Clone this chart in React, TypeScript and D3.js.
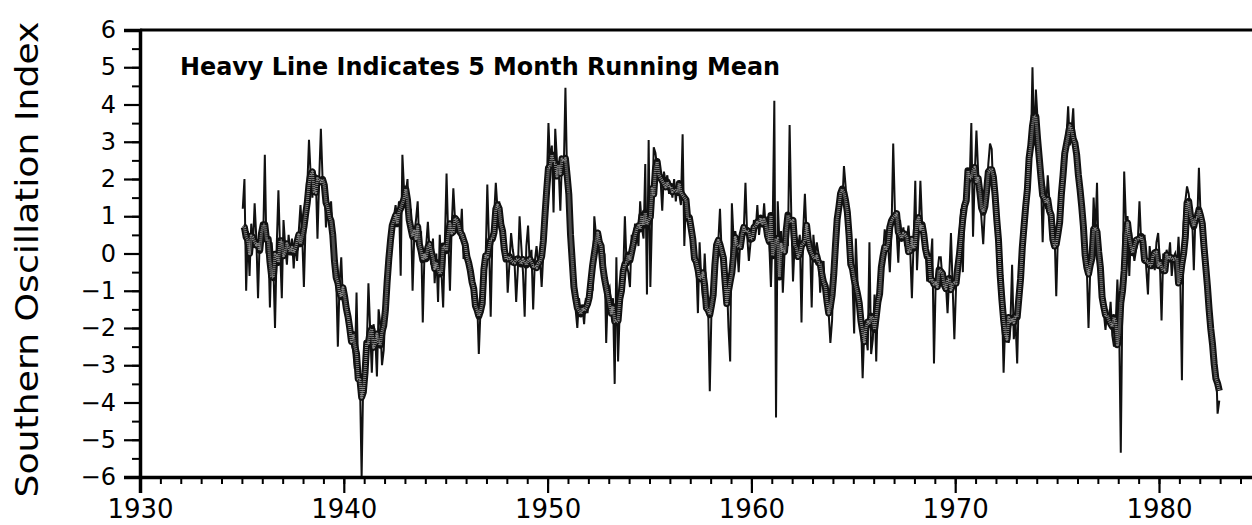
import React, { useEffect, useRef } from 'react';
import * as d3 from 'd3';

// monthly Southern Oscillation Index, Jan 1935 .. Dec 1982
const soi1935to1939 = [
    1.2, 2.0, -1.0, 0.6, -0.6, 0.8, 0.2, 1.35, 0.4, -1.2, 0.4, 0.5,
    0.3, 2.65, 0.0, 0.4, -1.45, 0.3, -0.3, -2.0, 0.2, 1.7, 0.1, -1.2,
    0.9, 0.2, -0.3, 0.5, 0.0, 0.4, -0.4, 0.3, -0.2, 0.6, 1.3, 0.5,
    -0.9, 0.8, 1.8, 3.05, 2.1, 1.5, 2.2, 2.1, 0.4, 2.0, 3.35, 2.0,
    1.9, 0.7, 1.25, 1.0, 1.4, 0.6, 0.1, -0.6, -2.5, -0.8, -0.1, -1.3,
];
const soi1940s = [
    -1.1, -1.3, -2.0, -1.7, -2.4, -2.6, -3.1, -1.05, -3.3, -3.4, -6.0, -3.2,
    -3.4, -2.6, -0.8, -2.0, -3.2, -1.9, -2.2, -3.3, -1.5, -1.9, -3.0, -2.6,
    -1.5, -0.7, 0.2, 0.75, 0.5, 1.0, 1.3, 0.9, 1.4, -0.6, 2.65, 1.7,
    1.6, 2.0, 0.7, 1.2, -1.0, 0.5, 0.9, 1.4, 0.2, 0.6, -1.85, 0.0,
    0.2, 0.85, 0.1, -0.3, 0.4, -0.8, 0.0, -1.3, 0.5, -0.5, -1.45, 0.3,
    2.15, 0.4, -1.0, 0.7, 1.75, 0.9, 0.6, 0.8, 0.4, 1.2, -0.15, 0.3,
    0.1, -0.3, -0.4, -0.9, -0.8, -1.4, -1.2, -2.7, -1.5, -1.6, -0.7, -0.2,
    1.85, 0.3, -1.7, 0.45, 1.0, 1.9, 1.2, 1.4, 1.0, 0.5, -0.2, 0.3,
    -1.05, -0.3, 0.55, 0.1, -0.2, -1.3, -0.4, 1.0, 0.2, -0.5, -1.7, 0.2,
    0.75, -0.3, 0.1, -1.5, -0.2, 0.2, -0.3, -0.1, -0.9, 0.0, 0.9, 1.8,
];
const soi1950s = [
    3.5, 2.4, 2.9, 1.1, 3.35, 2.5, 2.3, 1.15, 2.6, 2.2, 4.45, 2.0,
    1.5, 0.3, -0.3, -1.0, -1.5, -2.0, -1.2, -1.6, -1.4, -1.9, -1.2, -1.6,
    -1.2, -0.9, -1.0, 1.0, 0.5, 0.35, 0.6, 0.3, -0.25, 0.0, -2.4, -1.0,
    -0.9, -1.4, -1.2, -3.5, -0.1, -2.9, -1.5, -1.0, -0.6, 1.0, -0.3, -0.5,
    -0.9, 0.5, 0.3, 0.8, 0.6, 0.2, 1.4, 0.7, 0.4, 2.4, -1.1, 3.05,
    -0.9, 1.0, 2.85, 2.7, 2.3, 2.5, 2.0, 1.15, 2.2, 1.9, 2.1, 1.6,
    1.8, 1.5, 2.0, 1.4, 1.9, 1.6, 1.3, 3.2, 0.2, 1.5, 1.3, 1.0,
    0.7, 0.3, 0.1, -0.2, -1.6, 0.3, -0.7, -1.2, 0.0, -1.0, -1.4, -3.7,
    -1.5, -0.6, 0.25, 0.0, 0.3, 1.2, 0.0, -0.3, -0.9, -0.6, -2.0, -2.9,
    1.35, 0.4, 0.6, 0.3, -0.5, 0.4, 0.1, 0.6, 1.9, 0.5, -0.2, 0.3,
];
const soi1960s = [
    0.4, 0.9, 0.6, 1.3, 0.5, 0.9, 0.7, 1.35, 0.6, 1.0, 0.3, -0.9,
    0.6, 4.1, -4.4, 1.4, 0.3, 0.6, -1.05, 0.0, 0.5, 0.2, 3.45, 1.0,
    -0.75, 0.3, 0.45, 0.2, 0.5, -1.85, 0.6, 1.6, 0.5, 0.8, 0.3, -1.45,
    0.5, -0.1, 0.3, 0.0, -1.05, -0.4, -0.2, -1.2, -1.0, -1.6, -2.4, -1.8,
    -0.3, 0.5, 1.2, 1.5, 1.7, 1.3, 2.35, 1.8, 1.0, 0.6, -0.2, -0.7,
    -2.15, 0.4, -0.8, -1.2, -1.7, -3.35, -2.0, -2.2, -2.6, 0.3, -2.7, -2.3,
    -1.1, -2.9, -1.2, -1.0, -0.3, 0.0, 0.65, 0.3, 0.2, -0.5, 0.6, 2.95,
    1.15, 0.6, -0.25, 0.9, 0.5, 0.7, 0.2, 0.4, 0.75, 0.1, -1.2, 0.3,
    1.95, -0.45, 0.55, 1.95, 0.8, 0.4, 0.2, -0.75, 0.0, -0.25, 0.4, -2.95,
    -0.8, -0.5, -0.1, -0.1, -0.7, -1.0, -0.8, -1.6, -0.6, 0.55, -0.9, -2.3,
];
const soi1970s = [
    -0.9, -0.4, 0.5, 1.2, -0.5, 1.5, 2.0, 2.2, 1.9, 3.5, 0.45, 2.1,
    3.3, 2.2, 1.6, 0.9, 0.25, 1.2, 1.6, 2.4, 2.95, 2.8, 1.5, 1.6,
    1.4, 0.5, -0.5, -1.2, -3.2, -1.8, -2.2, -2.4, -1.9, -0.3, -2.3, -1.8,
    -2.95, -1.0, -0.5, 0.3, 0.8, 1.2, 1.8, 2.2, 2.6, 5.0, 2.9, 4.4,
    3.6, 2.5, 2.0, 0.3, 1.8, 1.2, 2.1, 1.4, 0.75, 0.3, 0.6, -1.15,
    0.5, 1.0, 1.7, 2.1, 2.6, 3.1, 3.95, 2.9, 3.3, 3.9, 2.7, 2.6,
    2.3, 1.8, 1.2, 0.7, 0.3, -0.4, -2.0, -0.45, -0.2, 1.5, 0.5, 1.9,
    -0.2, -0.8, -1.2, -1.6, -2.05, -1.5, -1.9, -1.3, -2.2, -2.5, -1.9, -0.7,
    -1.8, -5.35, -1.0, 2.2, 0.9, 1.0, -0.6, 0.6, 0.2, -0.2, 0.1, 0.3,
    1.4, 0.3, -0.2, 0.5, -0.4, -1.1, 0.2, -0.3, 0.0, -0.45, 0.3, 0.55,
];
const soi1980to1982 = [
    -0.2, -1.8, 0.0, -0.4, 0.1, -0.2, 0.3, -0.6, -0.1, 0.0, -0.4, 0.45,
    -0.6, -3.4, 0.8, 1.4, 1.8, 1.6, 1.2, 1.0, -0.45, 1.1, 0.8, 2.3,
    1.0, 0.65, 0.3, -0.25, -0.8, -1.6, -2.0, -2.85, -2.9, -2.8, -4.3, -3.95,
];

const firstYear = 1935;
const xMajorTicks = [1930, 1940, 1950, 1960, 1970, 1980];
const yMajorTicks = [-6, -5, -4, -3, -2, -1, 0, 1, 2, 3, 4, 5, 6];
const noteText = 'Heavy Line Indicates 5 Month Running Mean';
const yTitle = 'Southern Oscillation Index';

const App = () => {
    const ref = useRef<SVGSVGElement>(null);

    useEffect(() => {
        const svg = d3.select(ref.current);
        svg.selectAll('*').remove();

        const values = [...soi1935to1939, ...soi1940s, ...soi1950s, ...soi1960s, ...soi1970s, ...soi1980to1982];
        const monthly = values.map((v, i) => ({ t: firstYear + (i + 0.5) / 12, v }));
        // 5 month centred running mean
        const running = monthly.map((d, i) => {
            const win = values.slice(Math.max(0, i - 2), Math.min(values.length, i + 3));
            return { t: d.t, v: d3.mean(win) as number };
        });

        const x = d3.scaleLinear().domain([1930, 1985]).range([140, 140 + 55 * 20.38]);
        const y = d3.scaleLinear().domain([-6, 6]).range([477, 30]);

        const line = d3.line<{ t: number; v: number }>()
            .x(d => x(d.t))
            .y(d => y(d.v));

        // raw monthly values
        svg.append('path')
            .datum(monthly)
            .attr('d', line)
            .attr('fill', 'none')
            .attr('stroke', '#111')
            .attr('stroke-width', 2)
            .attr('stroke-linejoin', 'miter');

        // heavy running-mean line: black edge, grey stippled core
        svg.append('path')
            .datum(running)
            .attr('d', line)
            .attr('fill', 'none')
            .attr('stroke', '#111')
            .attr('stroke-width', 7)
            .attr('stroke-linejoin', 'round');
        svg.append('path')
            .datum(running)
            .attr('d', line)
            .attr('fill', 'none')
            .attr('stroke', '#8a8a8a')
            .attr('stroke-width', 3)
            .attr('stroke-dasharray', '1 1')
            .attr('stroke-linejoin', 'round');

        // top frame line
        svg.append('line')
            .attr('x1', x(1930)).attr('x2', x(1985))
            .attr('y1', y(6)).attr('y2', y(6))
            .attr('stroke', '#000').attr('stroke-width', 3);

        // x axis
        const xMinor = d3.axisBottom(x).tickValues(d3.range(1930, 1986)).tickSize(7).tickFormat(() => '');
        const xMajor = d3.axisBottom(x).tickValues(xMajorTicks).tickSize(16).tickPadding(7).tickFormat(d3.format('d'));
        const gxm = svg.append('g').attr('transform', `translate(0,${y(-6)})`).call(xMinor);
        gxm.select('.domain').remove();
        gxm.selectAll('line').attr('stroke-width', 2);
        const gx = svg.append('g').attr('transform', `translate(0,${y(-6)})`).call(xMajor);
        gx.select('.domain').attr('stroke-width', 3.5);
        gx.selectAll('line').attr('stroke-width', 2.2);
        gx.selectAll('text')
            .attr('font-family', '"DejaVu Sans", sans-serif')
            .attr('font-size', 26)
            .attr('fill', '#000');

        // y axis
        const yMinor = d3.axisLeft(y).tickValues(d3.range(-6, 6.01, 0.5)).tickSize(8).tickFormat(() => '');
        const yMajor = d3.axisLeft(y).tickValues(yMajorTicks).tickSize(16).tickPadding(8);
        const gym = svg.append('g').attr('transform', `translate(${x(1930)},0)`).call(yMinor);
        gym.select('.domain').remove();
        gym.selectAll('line').attr('stroke-width', 2);
        const gy = svg.append('g').attr('transform', `translate(${x(1930)},0)`).call(yMajor);
        gy.select('.domain').attr('stroke-width', 3.5);
        gy.selectAll('line').attr('stroke-width', 2.2);
        gy.selectAll('text')
            .attr('font-family', '"DejaVu Sans", sans-serif')
            .attr('font-size', 24)
            .attr('fill', '#000');

        // y axis title
        svg.append('text')
            .attr('transform', `translate(38,${(y(-6) + y(6)) / 2 + 6}) rotate(-90)`)
            .attr('text-anchor', 'middle')
            .attr('font-family', '"DejaVu Sans", sans-serif')
            .attr('font-size', 32)
            .attr('textLength', 476)
            .attr('lengthAdjust', 'spacingAndGlyphs')
            .text(yTitle);

        // note
        svg.append('text')
            .attr('x', 180)
            .attr('y', 75)
            .attr('font-family', '"DejaVu Sans", sans-serif')
            .attr('font-weight', 'bold')
            .attr('font-size', 25)
            .attr('textLength', 600)
            .attr('lengthAdjust', 'spacingAndGlyphs')
            .text(noteText);
    }, []);

    return (
        <svg
            ref={ref}
            width={1252}
            height={525}
            style={{ position: 'absolute', left: 0, top: 0, background: '#fff' }}
        />
    );
};

export default App;
